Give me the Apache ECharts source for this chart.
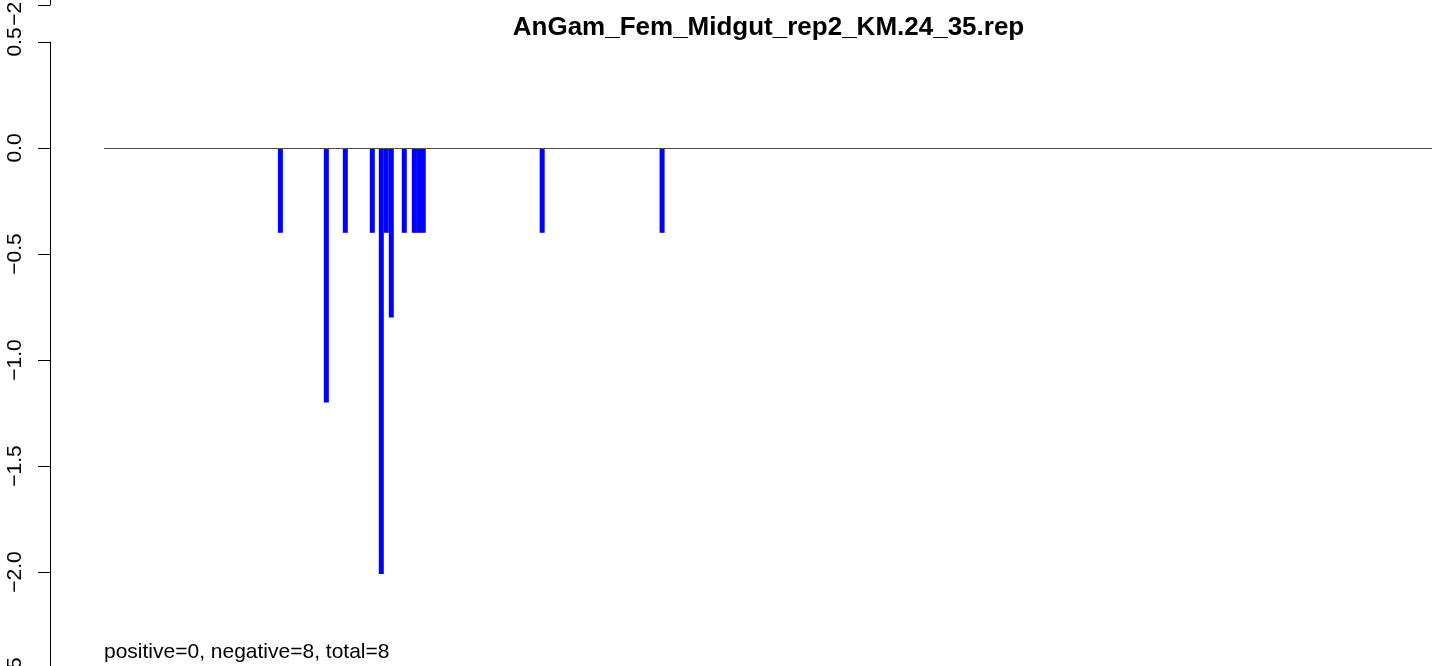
<!DOCTYPE html>
<html>
<head>
<meta charset="utf-8">
<script src="https://cdn.jsdelivr.net/npm/echarts@6/dist/echarts.min.js"></script>
<style>
html,body{margin:0;padding:0;background:#fff;}
#chart{width:1433px;height:666px;}
</style>
</head>
<body>
<div id="chart"></div>
<script>
// ---- data ----
var chartTitle = 'AnGam_Fem_Midgut_rep2_KM.24_35.rep';
var footnote = 'positive=0, negative=8, total=8';
// bar positions (arbitrary position units along the track)
var positions = [176.5, 222.5, 241.5, 268.5, 277.5, 282.5, 287.5, 300.5, 310.5, 315, 319.5, 438.5, 558.5];
var values    = [-0.4, -1.2, -0.4, -0.4, -2.01, -0.4, -0.8, -0.4, -0.4, -0.4, -0.4, -0.4, -0.4];
var yTicks = [0.5, 0.0, -0.5, -1.0, -1.5, -2.0, -2.5];
var xRange = [0, 1329];

var barData = positions.map(function (p, i) { return [p, values[i]]; });
var yMin = yTicks[yTicks.length - 1], yMax = yTicks[0];

function fmt(v) {
  return (v < 0 ? '\u2212' : '') + Math.abs(v).toFixed(1);
}

var yAxisBase = {
  type: 'value', min: yMin, max: yMax, interval: 0.5, offset: 54,
  axisLine: {show: true, onZero: false, lineStyle: {color: '#000', width: 1}},
  axisTick: {show: true, length: 12, lineStyle: {color: '#000', width: 1}},
  axisLabel: {show: true, rotate: 90, margin: 24, color: '#000', fontSize: 21,
    fontFamily: 'Liberation Sans, Arial, sans-serif', formatter: fmt,
    showMinLabel: true, showMaxLabel: true, hideOverlap: false},
  splitLine: {show: false}
};

var chart = echarts.init(document.getElementById('chart'), null, {renderer: 'canvas'});
chart.setOption({
  animation: false,
  backgroundColor: '#fff',
  title: [{
    text: chartTitle, left: 768.5, top: 14.5, padding: 0, textAlign: 'center',
    textStyle: {fontSize: 26, fontWeight: 'bold', color: '#000', fontFamily: 'Liberation Sans, Arial, sans-serif'}
  }, {
    text: footnote, left: 104, top: 642, padding: 0,
    textStyle: {fontSize: 21, fontWeight: 'normal', color: '#000', fontFamily: 'Liberation Sans, Arial, sans-serif'}
  }],
  grid: [
    {left: 104, right: 1, top: 42, height: 636, outerBoundsMode: 'none', containLabel: false},
    {left: 104, right: 1, top: -631, height: 636, outerBoundsMode: 'none', containLabel: false}
  ],
  xAxis: [
    {type: 'value', gridIndex: 0, min: xRange[0], max: xRange[1], show: false},
    {type: 'value', gridIndex: 1, min: xRange[0], max: xRange[1], show: false}
  ],
  yAxis: [
    Object.assign({gridIndex: 0}, yAxisBase),
    Object.assign({gridIndex: 1}, yAxisBase)
  ],
  series: [{
    type: 'bar', xAxisIndex: 0, yAxisIndex: 0,
    data: barData, barWidth: 5, barGap: '-100%',
    itemStyle: {color: '#0000ff'},
    markLine: {
      silent: true, symbol: 'none', animation: false,
      label: {show: false},
      lineStyle: {color: '#4d4d4d', width: 1, type: 'solid'},
      data: [{yAxis: 0}]
    }
  }]
});
</script>
</body>
</html>
